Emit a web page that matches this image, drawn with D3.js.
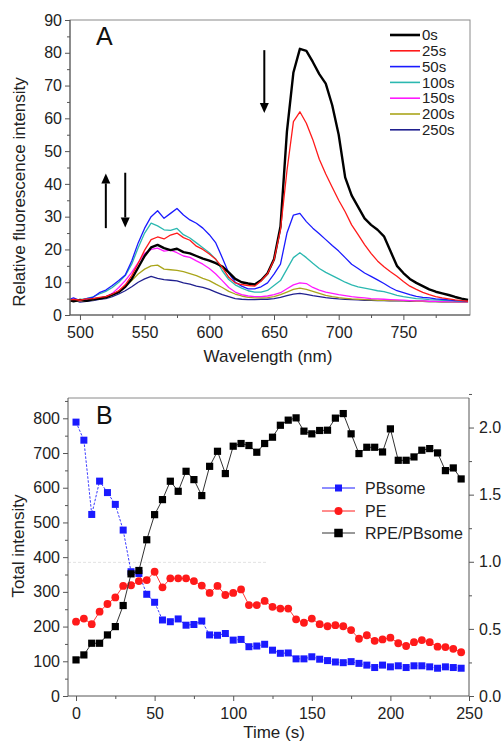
<!DOCTYPE html>
<html><head><meta charset="utf-8">
<script src="https://cdn.jsdelivr.net/npm/d3@7"></script>
<style>body{margin:0;background:#fff}svg{display:block}</style>
</head><body><svg id="c" width="502" height="743"></svg>
<script>
// ---------- Panel A data ----------
const wavelengths = [492,495,500,505,510,515,520,525,530,535,540,545,550,555,560,565,570,575,580,585,590,595,600,605,610,615,620,625,630,635,640,645,650,655,660,665,670,675,680,685,690,695,700,705,710,715,720,725,730,735,740,745,750,755,760,765,770,775,780,785,790,795,800];
const spectraLabels = ["0s","25s","50s","100s","150s","200s","250s"];
const spectraColors = ["#000000","#ff1a1a","#1a1aff","#2bb8b0","#ff1aff","#aaa61c","#20208f"];
const spectrum0s = [4.5,4.2,4.6,4.3,4.8,5.0,5.4,6.2,7.0,8.6, 11.0,14.5,18.0,20.6,21.4,20.4,19.8,20.2,19.2,18.8, 18.0,17.2,16.6,15.8,14.8,13.0,11.0,10.0,9.6,9.3, 10.6,12.7,17.0,27.0,56.0,74.0,81.2,80.6,77.2,73.5, 70.6,64.0,55.0,42.0,36.5,33.0,29.5,27.5,26.0,24.0, 19.5,15.0,12.8,11.0,9.8,8.8,7.8,7.1,6.6,6.1, 5.5,5.0,4.6];
const spectrum25s = [4.6,4.8,4.5,4.9,5.0,5.4,5.6,6.4,7.4,9.2, 12.0,15.8,19.8,23.0,23.8,23.2,24.4,25.0,23.6,22.8, 21.0,20.0,18.6,17.0,14.5,11.5,9.8,9.3,9.0,8.8, 10.4,12.6,16.8,26.0,44.0,59.0,62.0,58.5,53.5,47.5, 43.0,39.0,35.0,31.5,27.5,24.5,21.5,18.8,16.5,14.7, 13.2,11.8,10.2,8.8,7.8,6.9,6.2,5.6,5.2,4.9, 4.6,4.4,4.2];
const spectrum50s = [4.8,5.2,4.4,5.0,5.4,6.8,7.6,9.0,10.5,12.2, 16.5,22.0,26.5,30.0,31.8,29.5,31.0,32.5,30.5,29.0, 28.0,26.5,24.5,22.0,17.5,12.8,10.0,8.8,8.0,8.0, 8.6,9.8,12.5,15.5,25.0,30.5,31.0,28.5,26.5,24.8, 23.0,21.2,19.5,17.5,15.5,14.2,12.8,11.8,10.7,9.6, 8.4,7.4,6.8,6.2,5.7,5.4,5.2,4.9,4.8,4.6, 4.4,4.3,4.2];
const spectrum100s = [4.6,4.4,4.7,5.0,5.5,6.4,7.2,8.4,10.0,12.0, 15.5,20.5,25.0,28.0,27.2,26.0,25.8,26.4,24.5,23.5, 22.0,20.5,19.0,17.0,13.5,10.8,9.2,8.2,7.4,7.0, 7.0,7.5,9.0,10.5,14.0,17.5,19.0,17.5,15.8,14.2, 13.0,12.0,11.0,10.0,9.2,8.6,8.2,7.8,7.4,7.1, 6.6,6.0,5.6,5.3,5.0,4.9,4.7,4.6,4.5,4.4, 4.3,4.2,4.1];
const spectrum150s = [4.2,4.6,4.3,4.6,4.9,5.2,5.6,6.6,8.4,10.5, 13.0,16.0,18.8,20.0,20.4,19.5,19.8,19.0,18.0,17.6, 16.5,15.5,14.2,12.5,10.5,8.4,7.0,6.2,5.8,5.6, 5.6,5.8,6.2,6.8,8.0,9.2,9.8,9.6,8.4,7.6, 7.0,6.6,6.2,5.9,5.6,5.4,5.2,5.0,4.9,4.8, 4.7,4.6,4.5,4.4,4.3,4.3,4.2,4.2,4.1,4.1, 4.0,4.0,4.0];
const spectrum200s = [4.0,4.4,4.2,4.5,4.6,5.0,5.3,6.0,7.4,8.6, 10.5,12.5,14.0,15.0,15.2,14.0,13.8,13.6,13.2,12.6, 12.0,11.2,10.5,9.4,8.4,7.2,6.4,5.8,5.4,5.2, 5.2,5.3,5.6,6.2,7.0,7.8,8.2,7.8,7.2,6.6, 6.0,5.6,5.3,5.1,4.9,4.8,4.7,4.6,4.5,4.5, 4.4,4.4,4.3,4.3,4.2,4.2,4.1,4.1,4.0,4.0, 3.9,3.9,3.9];
const spectrum250s = [4.2,4.6,3.9,4.2,4.4,4.8,5.0,5.6,6.4,7.4, 8.6,10.0,11.0,11.8,11.2,10.8,10.6,10.4,9.8,9.4, 8.8,8.4,7.8,7.0,6.2,5.6,5.0,4.8,4.7,4.7, 4.8,4.8,5.0,5.4,5.9,6.4,6.6,6.3,5.9,5.6, 5.3,5.1,4.9,4.8,4.7,4.6,4.5,4.5,4.4,4.4, 4.3,4.3,4.3,4.2,4.2,4.2,4.1,4.1,4.0,4.0, 4.0,3.9,3.9];
const spectra = [spectrum0s,spectrum25s,spectrum50s,spectrum100s,spectrum150s,spectrum200s,spectrum250s];
const xTicksA = [500,550,600,650,700,750];
const xMinorA = [525,575,625,675,725,775];
const yTicksA = [0,10,20,30,40,50,60,70,80,90];
const yMinorA = [5,15,25,35,45,55,65,75,85];
const arrowsA = [{wl:520,from:26.5,to:43.2},{wl:535,from:43.4,to:26.7},{wl:642.5,from:80.8,to:61.6}];

// ---------- Panel B data ----------
const times = [0,5,10,15,20,25,30,35,40,45,50,55,60,65,70,75,80,85,90,95,100,105,110,115,120,125,130,135,140,145,150,155,160,165,170,175,180,185,190,195,200,205,210,215,220,225,230,235,240,245];
const pbsome = [789,737,523,619,586,552,478,358,353,293,270,219,214,222,204,206,216,176,175,180,161,163,142,144,149,132,123,124,107,107,113,106,102,98,96,99,94,89,82,89,84,87,82,87,87,84,80,84,82,80];
const pe = [214,223,207,243,265,284,317,319,331,334,358,313,339,339,339,331,318,297,317,291,297,307,262,262,274,257,252,252,221,211,223,207,201,204,201,190,165,175,159,163,168,152,144,155,161,155,142,141,136,126];
const ratio = [0.269,0.306,0.393,0.393,0.455,0.517,0.674,0.910,0.935,1.164,1.351,1.463,1.600,1.525,1.674,1.612,1.493,1.711,1.823,1.657,1.861,1.881,1.866,1.816,1.881,1.928,2.017,2.055,2.072,1.973,1.953,1.978,1.980,2.070,2.104,1.953,1.806,1.853,1.853,1.818,1.990,1.756,1.756,1.781,1.831,1.843,1.811,1.679,1.699,1.617];
const seriesBLabels = ["PBsome","PE","RPE/PBsome"];
const seriesBColors = ["#1a1aff","#ff1a1a","#000000"];
const xTicksB = [0,50,100,150,200,250];
const xMinorB = [25,75,125,175,225];
const yLeftTicksB = [0,100,200,300,400,500,600,700,800];
const yLeftMinorB = [50,150,250,350,450,550,650,750,850];
const yRightTicksB = [0,0.5,1.0,1.5,2.0];
const yRightMinorB = [0.25,0.75,1.25,1.75,2.25];

// ---------- drawing ----------
const FONT = '"Liberation Sans", Arial, Helvetica, sans-serif';
const AX = "#555";
const svg = d3.select("#c").attr("font-family", FONT);
svg.append("rect").attr("width",502).attr("height",743).attr("fill","#fff");

function styleAxis(g, fs) {
  g.attr("font-family", FONT).attr("font-size", fs);
  g.selectAll("path.domain").remove();
  g.selectAll("line").attr("stroke", AX).attr("stroke-width", 1);
  g.selectAll("text").attr("fill", "#222");
}

// Panel A
const xA = d3.scaleLinear().domain([492.3, 801.5]).range([70, 470]);
const yA = d3.scaleLinear().domain([0, 90]).range([315, 20]);
const gA = svg.append("g");

const clipA = svg.append("clipPath").attr("id","clipA");
clipA.append("rect").attr("x",70).attr("y",20).attr("width",400).attr("height",295);

// spectra (draw thick 0s last-ish order: reverse so early ones on top)
const lineA = d3.line().x((d,i)=>xA(wavelengths[i])).y(d=>yA(d));
const order = [6,5,4,3,2,0,1];
order.forEach(k => {
  gA.append("path").attr("clip-path","url(#clipA)")
    .attr("d", lineA(spectra[k]))
    .attr("fill","none").attr("stroke", spectraColors[k])
    .attr("stroke-width", k===0 ? 2.4 : 1.3)
    .attr("stroke-linejoin","round");
});

// box
gA.append("rect").attr("x",70).attr("y",20).attr("width",400).attr("height",295)
  .attr("fill","none").attr("stroke","#8a8a8a").attr("stroke-width",1);
gA.append("line").attr("x1",70).attr("x2",70).attr("y1",20).attr("y2",315).attr("stroke",AX);
gA.append("line").attr("x1",70).attr("x2",470).attr("y1",315).attr("y2",315).attr("stroke",AX);

const gxA = gA.append("g").attr("transform","translate(0,315)")
  .call(d3.axisBottom(xA).tickValues(xTicksA).tickSize(5).tickSizeOuter(0).tickPadding(7).tickFormat(d3.format("d")));
styleAxis(gxA, 16);
const gxAm = gA.append("g").attr("transform","translate(0,315)")
  .call(d3.axisBottom(xA).tickValues(xMinorA).tickSize(3).tickSizeOuter(0).tickFormat(""));
styleAxis(gxAm, 16);
const gyA = gA.append("g").attr("transform","translate(70,0)")
  .call(d3.axisLeft(yA).tickValues(yTicksA).tickSize(5).tickSizeOuter(0).tickPadding(3).tickFormat(d3.format("d")));
styleAxis(gyA, 16);
const gyAm = gA.append("g").attr("transform","translate(70,0)")
  .call(d3.axisLeft(yA).tickValues(yMinorA).tickSize(3).tickSizeOuter(0).tickFormat(""));
styleAxis(gyAm, 16);

gA.append("text").attr("transform","translate(25,192) rotate(-90)").attr("text-anchor","middle")
  .attr("font-size",17).attr("fill","#222").text("Relative fluorescence intensity");
gA.append("text").attr("x",268).attr("y",362).attr("text-anchor","middle")
  .attr("font-size",17).attr("fill","#222").text("Wavelength (nm)");
gA.append("text").attr("x",96).attr("y",45).attr("font-size",25).attr("fill","#111").text("A");

// arrows
arrowsA.forEach(a => {
  const x = xA(a.wl), y0 = yA(a.from), y1 = yA(a.to);
  const dir = y1 < y0 ? -1 : 1;
  const head = 10;
  gA.append("line").attr("x1",x).attr("x2",x).attr("y1",y0).attr("y2",y1 - dir*head)
    .attr("stroke","#000").attr("stroke-width",2);
  gA.append("path").attr("d", `M${x},${y1} L${x-4.5},${y1-dir*head} L${x+4.5},${y1-dir*head} Z`).attr("fill","#000");
});

// legend A
spectraLabels.forEach((lab,i) => {
  const y = 35 + i*15.8;
  gA.append("line").attr("x1",390).attr("x2",420).attr("y1",y).attr("y2",y)
    .attr("stroke",spectraColors[i]).attr("stroke-width", i===0 ? 2.6 : 1.6);
  gA.append("text").attr("x",422).attr("y",y).attr("dy","0.35em").attr("font-size",15)
    .attr("fill","#222").text(lab);
});

// Panel B
const xB = d3.scaleLinear().domain([-5.1, 250]).range([68, 469]);
const yBL = d3.scaleLinear().domain([0, 858.5]).range([696, 398]);
const yBR = d3.scaleLinear().domain([0, 2.22]).range([696, 398]);
const gB = svg.append("g");

// faint reference line
gB.append("line").attr("x1",xB(-5.1)).attr("x2",xB(121)).attr("y1",yBL(385)).attr("y2",yBL(385))
  .attr("stroke","#e2e2e2").attr("stroke-width",1).attr("stroke-dasharray","3,2");

gB.append("line").attr("x1",68).attr("x2",469).attr("y1",398).attr("y2",398).attr("stroke","#8a8a8a");
gB.append("line").attr("x1",68).attr("x2",68).attr("y1",398).attr("y2",696).attr("stroke",AX);
gB.append("line").attr("x1",68).attr("x2",469).attr("y1",696).attr("y2",696).attr("stroke",AX);
gB.append("line").attr("x1",469).attr("x2",469).attr("y1",398).attr("y2",696).attr("stroke",AX);

const gxB = gB.append("g").attr("transform","translate(0,696)")
  .call(d3.axisBottom(xB).tickValues(xTicksB).tickSize(5).tickSizeOuter(0).tickPadding(7).tickFormat(d3.format("d")));
styleAxis(gxB, 16);
const gxBm = gB.append("g").attr("transform","translate(0,696)")
  .call(d3.axisBottom(xB).tickValues(xMinorB).tickSize(3).tickSizeOuter(0).tickFormat(""));
styleAxis(gxBm, 16);
const gyBL = gB.append("g").attr("transform","translate(68,0)")
  .call(d3.axisLeft(yBL).tickValues(yLeftTicksB).tickSize(5).tickSizeOuter(0).tickPadding(3).tickFormat(d3.format("d")));
styleAxis(gyBL, 16);
const gyBLm = gB.append("g").attr("transform","translate(68,0)")
  .call(d3.axisLeft(yBL).tickValues(yLeftMinorB).tickSize(3).tickSizeOuter(0).tickFormat(""));
styleAxis(gyBLm, 16);
const gyBR = gB.append("g").attr("transform","translate(469,0)")
  .call(d3.axisRight(yBR).tickValues(yRightTicksB).tickSize(5).tickSizeOuter(0).tickPadding(5).tickFormat(d3.format(".1f")));
styleAxis(gyBR, 16);
const gyBRm = gB.append("g").attr("transform","translate(469,0)")
  .call(d3.axisRight(yBR).tickValues(yRightMinorB).tickSize(3).tickSizeOuter(0).tickFormat(""));
styleAxis(gyBRm, 16);

gB.append("text").attr("transform","translate(24,546) rotate(-90)").attr("text-anchor","middle")
  .attr("font-size",17).attr("fill","#222").text("Total intensity");
gB.append("text").attr("x",274).attr("y",738).attr("text-anchor","middle")
  .attr("font-size",17).attr("fill","#222").text("Time (s)");
gB.append("text").attr("x",96).attr("y",424).attr("font-size",25).attr("fill","#111").text("B");

// series
const lineBL = d3.line().x((d,i)=>xB(times[i])).y(d=>yBL(d));
const lineBR = d3.line().x((d,i)=>xB(times[i])).y(d=>yBR(d));
gB.append("path").attr("d", lineBL(pbsome)).attr("fill","none").attr("stroke","#3a3aff")
  .attr("stroke-width",1).attr("stroke-dasharray","2.5,1.5");
gB.append("g").selectAll("rect").data(pbsome).join("rect")
  .attr("x",(d,i)=>xB(times[i])-3.5).attr("y",d=>yBL(d)-3.5).attr("width",7).attr("height",7)
  .attr("fill",seriesBColors[0]);
gB.append("path").attr("d", lineBL(pe)).attr("fill","none").attr("stroke","#ff3a3a").attr("stroke-width",1);
gB.append("g").selectAll("circle").data(pe).join("circle")
  .attr("cx",(d,i)=>xB(times[i])).attr("cy",d=>yBL(d)).attr("r",3.9).attr("fill",seriesBColors[1]);
gB.append("path").attr("d", lineBR(ratio)).attr("fill","none").attr("stroke","#333").attr("stroke-width",1);
gB.append("g").selectAll("rect").data(ratio).join("rect")
  .attr("x",(d,i)=>xB(times[i])-3.6).attr("y",d=>yBR(d)-3.6).attr("width",7.2).attr("height",7.2)
  .attr("fill",seriesBColors[2]);

// legend B
const legRows = [488, 511, 533];
seriesBLabels.forEach((lab,i) => {
  const y = legRows[i];
  gB.append("line").attr("x1",322).attr("x2",355).attr("y1",y).attr("y2",y)
    .attr("stroke", i===2 ? "#333" : seriesBColors[i]).attr("stroke-width",1);
  if (i === 1) {
    gB.append("circle").attr("cx",338.5).attr("cy",y).attr("r",4).attr("fill",seriesBColors[i]);
  } else {
    const s = i===2 ? 8.5 : 7;
    gB.append("rect").attr("x",338.5-s/2).attr("y",y-s/2).attr("width",s).attr("height",s).attr("fill",seriesBColors[i]);
  }
  gB.append("text").attr("x",365).attr("y",y).attr("dy","0.35em").attr("font-size",16)
    .attr("fill","#222").text(lab);
});
</script>
</body></html>
